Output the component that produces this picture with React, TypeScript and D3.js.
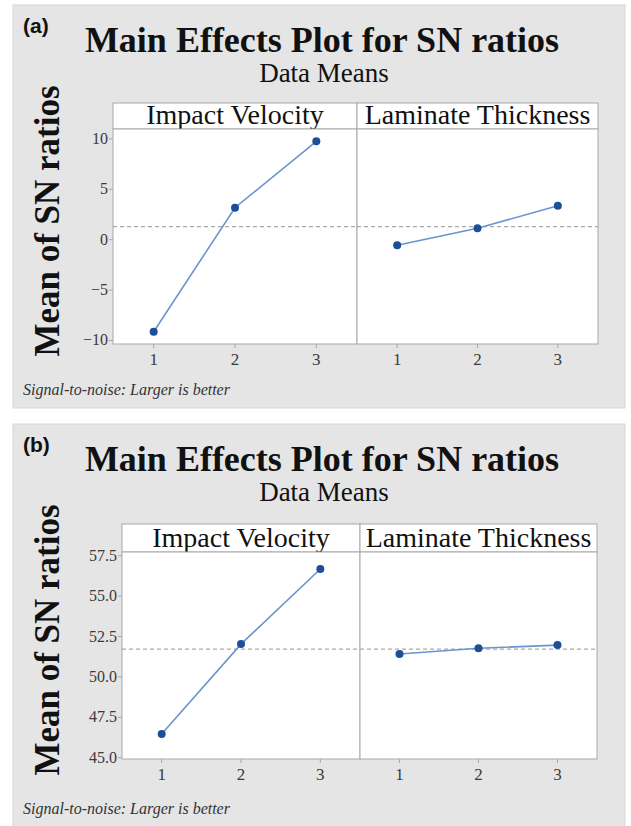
import React from "react";
import * as d3 from "d3";

// ---- data ----
const levels = [1, 2, 3];
const factors = ["Impact Velocity", "Laminate Thickness"];
const panelLabels = ["(a)", "(b)"];
const aVelocity = [-9.13, 3.17, 9.76];
const aThickness = [-0.56, 1.13, 3.37];
const bVelocity = [46.47, 52.03, 56.68];
const bThickness = [51.42, 51.77, 51.97];
const aTicks = [-10, -5, 0, 5, 10];
const bTicks = [45, 47.5, 50, 52.5, 55, 57.5];
const aDomain = [-10.35, 10.98];
const bDomain = [44.92, 57.73];

const W = 631;
const H = 826;
const FONT = "Liberation Serif";

type PanelCfg = {
  label: string;
  series: number[][];
  ticks: number[];
  domain: number[];
  fmt: (v: number) => string;
  offY: number;
  left: number;
  mid: number;
  right: number;
  stripTop: number;
  plotTop: number;
  plotBottom: number;
};

const panels: PanelCfg[] = [
  {
    label: panelLabels[0],
    series: [aVelocity, aThickness],
    ticks: aTicks,
    domain: aDomain,
    fmt: d3.format("d"),
    offY: 0,
    left: 113,
    mid: 357,
    right: 598,
    stripTop: 103,
    plotTop: 129,
    plotBottom: 344,
  },
  {
    label: panelLabels[1],
    series: [bVelocity, bThickness],
    ticks: bTicks,
    domain: bDomain,
    fmt: d3.format(".1f"),
    offY: 419,
    left: 122,
    mid: 360,
    right: 597,
    stripTop: 105,
    plotTop: 133,
    plotBottom: 340,
  },
];

function Panel({ cfg }: { cfg: PanelCfg }) {
  const y = d3.scaleLinear().domain(cfg.domain).range([cfg.plotBottom, cfg.plotTop]);
  const bounds = [
    [cfg.left, cfg.mid],
    [cfg.mid, cfg.right],
  ];
  const allMeans = cfg.series.map((s) => d3.mean(s) as number);
  const grand = d3.mean(allMeans) as number;
  const gy = y(grand);
  return (
    <g transform={`translate(0,${cfg.offY})`} style={{ fontFamily: FONT }}>
      <rect x={13} y={5} width={612} height={403} fill="#e5e5e5" stroke="#d6d6d6" strokeWidth={1} />
      <text x={23} y={33} fontFamily="Liberation Sans" fontWeight="bold" fontSize={21} fill="#111">
        {cfg.label}
      </text>
      <text x={322} y={52} textAnchor="middle" fontWeight="bold" fontSize={36} fill="#111">
        Main Effects Plot for SN ratios
      </text>
      <text x={324} y={82} textAnchor="middle" fontSize={27} fill="#111">
        Data Means
      </text>
      <text
        transform={`translate(59,221) rotate(-90)`}
        textAnchor="middle"
        fontWeight="bold"
        fontSize={35}
        fill="#111"
      >
        Mean of SN ratios
      </text>
      {bounds.map(([l, r], i) => (
        <g key={"s" + i}>
          <rect x={l} y={cfg.stripTop} width={r - l} height={cfg.plotTop - cfg.stripTop} fill="#fff" stroke="#a8a8a8" />
          <text x={(l + r) / 2} y={cfg.plotTop - 5} textAnchor="middle" fontSize={28} fill="#111">
            {factors[i]}
          </text>
        </g>
      ))}
      {bounds.map(([l, r], i) => (
        <rect key={"f" + i} x={l} y={cfg.plotTop} width={r - l} height={cfg.plotBottom - cfg.plotTop} fill="#fff" stroke="#a8a8a8" />
      ))}
      {cfg.ticks.map((t) => (
        <g key={"yt" + t}>
          <line x1={cfg.left - 4} x2={cfg.left} y1={y(t)} y2={y(t)} stroke="#a8a8a8" />
          <text x={cfg.left - 5} y={y(t) + 5} textAnchor="end" fontSize={16} fill="#3a3a3a">
            {cfg.fmt(t)}
          </text>
        </g>
      ))}
      {bounds.map(([l, r], i) => {
        const x = d3.scaleLinear().domain([0.5, 3.5]).range([l, r]);
        const line = d3
          .line<number>()
          .x((_, j) => x(levels[j]))
          .y((v) => y(v));
        return (
          <g key={"p" + i}>
            <line x1={l} x2={r} y1={gy} y2={gy} stroke="#aaaaaa" strokeWidth={1.3} strokeDasharray="4,3" />
            <path d={line(cfg.series[i]) || ""} fill="none" stroke="#6a95cc" strokeWidth={1.6} />
            {cfg.series[i].map((v, j) => (
              <circle key={j} cx={x(levels[j])} cy={y(v)} r={4} fill="#1d4f96" />
            ))}
            {levels.map((lv) => (
              <g key={"xt" + lv}>
                <line x1={x(lv)} x2={x(lv)} y1={cfg.plotBottom} y2={cfg.plotBottom + 4} stroke="#a8a8a8" />
                <text x={x(lv)} y={cfg.plotBottom + 21} textAnchor="middle" fontSize={17} fill="#3a3a3a">
                  {lv}
                </text>
              </g>
            ))}
          </g>
        );
      })}
      <text x={23} y={395} fontStyle="italic" fontSize={16} fill="#333">
        Signal-to-noise: Larger is better
      </text>
    </g>
  );
}

export default function App() {
  return (
    <svg width={W} height={H} style={{ position: "absolute", left: 0, top: 0, background: "#fff" }}>
      <rect width={W} height={H} fill="#fff" />
      {panels.map((p, i) => (
        <Panel key={i} cfg={p} />
      ))}
    </svg>
  );
}
